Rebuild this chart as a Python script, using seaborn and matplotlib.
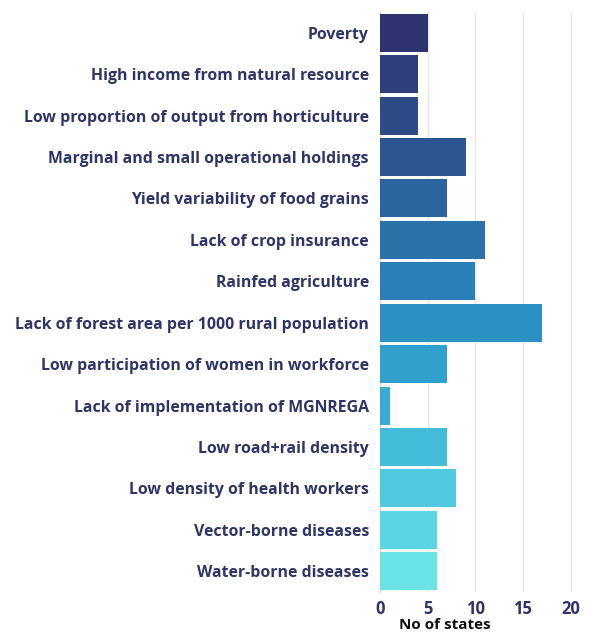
import matplotlib
matplotlib.use("Agg")
import matplotlib.pyplot as plt
import seaborn as sns
import pandas as pd

categories = [
    "Poverty",
    "High income from natural resource",
    "Low proportion of output from horticulture",
    "Marginal and small operational holdings",
    "Yield variability of food grains",
    "Lack of crop insurance",
    "Rainfed agriculture",
    "Lack of forest area per 1000 rural population",
    "Low participation of women in workforce",
    "Lack of implementation of MGNREGA",
    "Low road+rail density",
    "Low density of health workers",
    "Vector-borne diseases",
    "Water-borne diseases",
]
values = [5, 4, 4, 9, 7, 11, 10, 17, 7, 1, 7, 8, 6, 6]
xticks = [0, 5, 10, 15, 20]

colors = ["#2f3471", "#2e3f7c", "#2d4a86", "#2c5692", "#2b649e", "#2a72aa",
          "#2a80b6", "#2b91c3", "#2fa1cc", "#36aed2", "#42bcd8", "#50c8de",
          "#5cd5e2", "#6ae3e7"]

df = pd.DataFrame({"cat": categories, "val": values})

sns.set_style("white")
plt.rcParams["font.family"] = ["Open Sans", "DejaVu Sans"]

fig = plt.figure(figsize=(5.91, 6.34), dpi=100)
ax = fig.add_axes([380 / 591, 1 - 592 / 634, 201 / 591, 580 / 634])

sns.barplot(data=df, x="val", y="cat", hue="cat", palette=colors, legend=False,
            width=0.92, saturation=1, ax=ax, zorder=3, edgecolor="none")

ax.set_xlim(0, 21.1)
ax.set_xticks(xticks)
ax.set_xticklabels([str(t) for t in xticks])
ax.xaxis.grid(True, color="#e6e6ec", linewidth=1, zorder=0)
ax.yaxis.grid(False)
for s in ["top", "right", "bottom"]:
    ax.spines[s].set_visible(False)
ax.spines["left"].set_color("#d8d8e0")
ax.spines["left"].set_linewidth(0.8)
ax.tick_params(axis="both", length=0)
ax.tick_params(axis="y", pad=8)
ax.tick_params(axis="x", pad=6)
for lbl in ax.get_yticklabels():
    lbl.set_fontweight("bold")
    lbl.set_fontsize(11.45)
    lbl.set_color("#2e3566")
for lbl in ax.get_xticklabels():
    lbl.set_fontweight("bold")
    lbl.set_fontsize(12)
    lbl.set_color("#2e3566")
ax.set_ylabel("")
ax.set_xlabel("No of states", fontsize=11, fontweight="bold", color="#111111",
              va="center", ha="center")
ax.xaxis.set_label_coords(0.323, -0.057)

fig.savefig("out.png", dpi=100)
